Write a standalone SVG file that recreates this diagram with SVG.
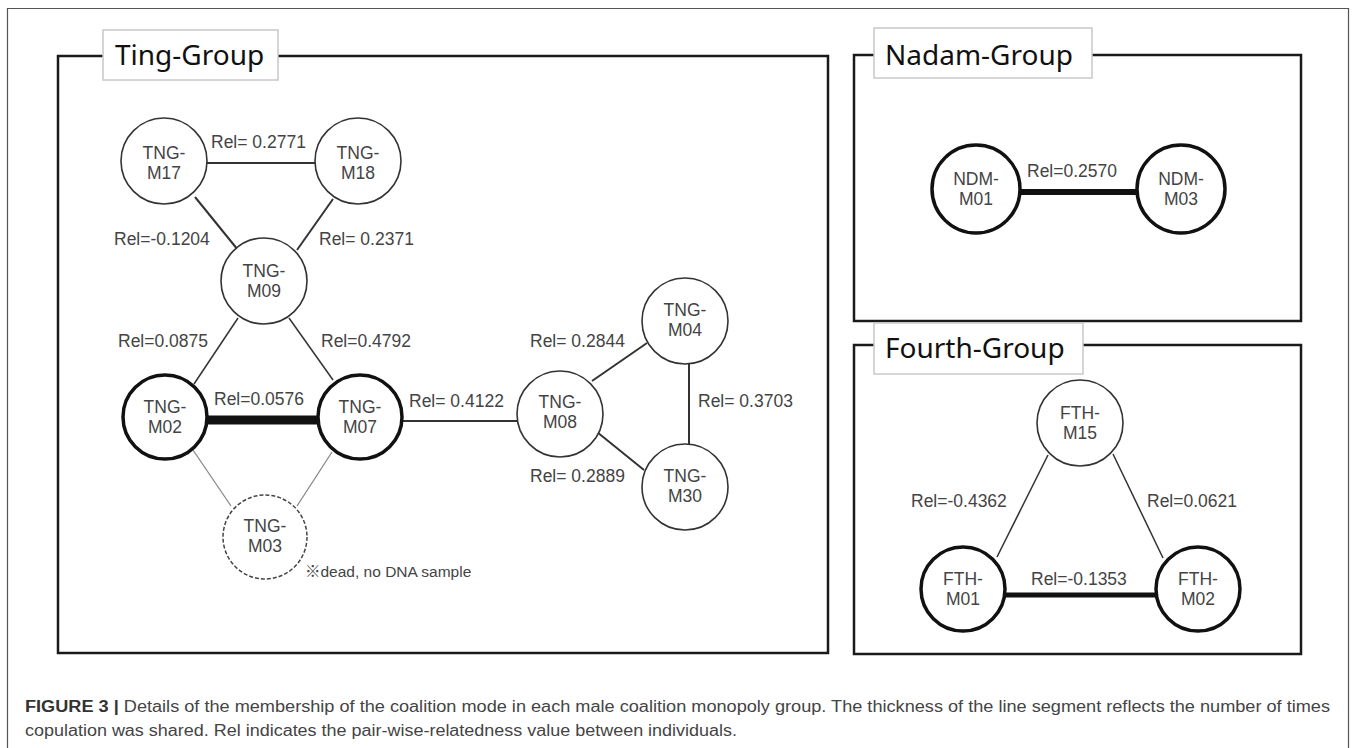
<svg xmlns="http://www.w3.org/2000/svg" width="1357" height="748" viewBox="0 0 1357 748">
<style>
.frame{fill:none;stroke:#555;stroke-width:1.2}
.group{fill:none;stroke:#1a1a1a;stroke-width:2.5}
.tagbox{fill:#fff;stroke:#c8c8c8;stroke-width:1.5}
.title{font-family:"Noto Sans","Open Sans",sans-serif;font-size:28px;fill:#111}
.node{fill:#fff;stroke:#333;stroke-width:1.6}
.bold{fill:#fff;stroke:#111;stroke-width:3.5}
.dead{fill:#fff;stroke:#444;stroke-width:1.5;stroke-dasharray:4 2}
.nt{font-family:"Liberation Sans",Arial,sans-serif;font-size:17.5px;fill:#444;text-anchor:middle}
.el{font-family:"Liberation Sans",Arial,sans-serif;font-size:17.5px;fill:#444}
.e{stroke:#333;stroke-width:2;fill:none}
.e1{stroke:#333;stroke-width:1.5;fill:none}
.eg{stroke:#888;stroke-width:1.3;fill:none}
.cap{font-family:"Liberation Sans",Arial,sans-serif;font-size:16px;fill:#444}
</style>
<rect x="0" y="0" width="1357" height="748" fill="#fff"/>
<path class="frame" d="M7.5,750 V8.5 H1348.5 V750"/>

<g id="ting-group">
<rect class="group" x="58" y="56" width="770" height="597"/>
<rect class="tagbox" x="103" y="30" width="175" height="50"/>
<text class="title" x="115" y="65">Ting-Group</text>
</g>
<g id="nadam-group">
<rect class="group" x="854" y="55" width="447" height="266"/>
<rect class="tagbox" x="874" y="28" width="218" height="50"/>
<text class="title" x="885" y="65">Nadam-Group</text>
</g>
<g id="fourth-group">
<rect class="group" x="854" y="345" width="447" height="309"/>
<rect class="tagbox" x="874" y="323" width="209" height="51"/>
<text class="title" x="885" y="358">Fourth-Group</text>
</g>

<g id="connectors">
<line class="e" x1="164" y1="163" x2="358" y2="163"/>
<line class="e" x1="195" y1="197" x2="238" y2="250"/>
<line class="e" x1="333" y1="199" x2="297" y2="250"/>
<line class="e1" x1="238" y1="318" x2="194" y2="384"/>
<line class="e1" x1="289" y1="318" x2="333" y2="380"/>
<line stroke="#111" stroke-width="9" x1="165" y1="420" x2="360" y2="420"/>
<line class="e" x1="360" y1="421" x2="560" y2="421"/>
<line class="e" x1="592" y1="381" x2="647" y2="343"/>
<line class="e" x1="689" y1="362" x2="689" y2="446"/>
<line class="e" x1="597" y1="432" x2="644" y2="470"/>
<line class="eg" x1="193" y1="450" x2="231" y2="506"/>
<line class="eg" x1="332" y1="452" x2="297" y2="506"/>
<line stroke="#111" stroke-width="6" x1="976" y1="192" x2="1181" y2="192"/>
<line class="e1" x1="1048" y1="455" x2="997" y2="557"/>
<line class="e1" x1="1113" y1="454" x2="1163" y2="558"/>
<line stroke="#111" stroke-width="5" x1="963" y1="595" x2="1198" y2="595"/>
<text class="el" x="211" y="148">Rel= 0.2771</text>
<text class="el" x="114" y="245">Rel=-0.1204</text>
<text class="el" x="319" y="245">Rel= 0.2371</text>
<text class="el" x="118" y="347">Rel=0.0875</text>
<text class="el" x="321" y="347">Rel=0.4792</text>
<text class="el" x="214" y="405">Rel=0.0576</text>
<text class="el" x="409" y="407">Rel= 0.4122</text>
<text class="el" x="530" y="347">Rel= 0.2844</text>
<text class="el" x="698" y="407">Rel= 0.3703</text>
<text class="el" x="530" y="482">Rel= 0.2889</text>
<text class="el" x="1027" y="177">Rel=0.2570</text>
<text class="el" x="911" y="507">Rel=-0.4362</text>
<text class="el" x="1147" y="507">Rel=0.0621</text>
<text class="el" x="1031" y="585">Rel=-0.1353</text>
</g>

<g id="TNG-M17"><circle class="node" cx="164" cy="161" r="43"/><text class="nt" x="164" y="159">TNG-</text><text class="nt" x="164" y="179">M17</text></g>
<g id="TNG-M18"><circle class="node" cx="358" cy="161" r="43"/><text class="nt" x="358" y="159">TNG-</text><text class="nt" x="358" y="179">M18</text></g>
<g id="TNG-M09"><circle class="node" cx="264" cy="281" r="43"/><text class="nt" x="264" y="277">TNG-</text><text class="nt" x="264" y="297">M09</text></g>
<g id="TNG-M02"><circle class="bold" cx="165" cy="417" r="42"/><text class="nt" x="165" y="413">TNG-</text><text class="nt" x="165" y="433">M02</text></g>
<g id="TNG-M07"><circle class="bold" cx="360" cy="417" r="42"/><text class="nt" x="360" y="413">TNG-</text><text class="nt" x="360" y="433">M07</text></g>
<g id="TNG-M08"><circle class="node" cx="560" cy="414" r="43"/><text class="nt" x="560" y="408">TNG-</text><text class="nt" x="560" y="428">M08</text></g>
<g id="TNG-M04"><circle class="node" cx="685" cy="321" r="43"/><text class="nt" x="685" y="316">TNG-</text><text class="nt" x="685" y="336">M04</text></g>
<g id="TNG-M30"><circle class="node" cx="685" cy="487" r="43"/><text class="nt" x="685" y="482">TNG-</text><text class="nt" x="685" y="502">M30</text></g>
<g id="TNG-M03"><circle class="dead" cx="265" cy="537" r="42"/><text class="nt" x="265" y="532">TNG-</text><text class="nt" x="265" y="552">M03</text>
<text font-family="'Liberation Sans','Noto Sans CJK JP',sans-serif" font-size="15.5" fill="#444" x="305" y="577">※dead, no DNA sample</text></g>

<g id="NDM-M01"><circle class="bold" cx="976" cy="189" r="44"/><text class="nt" x="976" y="185">NDM-</text><text class="nt" x="976" y="205">M01</text></g>
<g id="NDM-M03"><circle class="bold" cx="1181" cy="189" r="44"/><text class="nt" x="1181" y="185">NDM-</text><text class="nt" x="1181" y="205">M03</text></g>
<g id="FTH-M15"><circle class="node" cx="1080" cy="423" r="43"/><text class="nt" x="1080" y="419">FTH-</text><text class="nt" x="1080" y="439">M15</text></g>
<g id="FTH-M01"><circle class="bold" cx="963" cy="589" r="42"/><text class="nt" x="963" y="585">FTH-</text><text class="nt" x="963" y="605">M01</text></g>
<g id="FTH-M02"><circle class="bold" cx="1198" cy="589" r="42"/><text class="nt" x="1198" y="585">FTH-</text><text class="nt" x="1198" y="605">M02</text></g>

<g id="caption">
<text class="cap" x="25" y="712" textLength="1305" lengthAdjust="spacingAndGlyphs"><tspan font-weight="bold" fill="#333">FIGURE 3 |</tspan> Details of the membership of the coalition mode in each male coalition monopoly group. The thickness of the line segment reflects the number of times</text>
<text class="cap" x="25" y="736" textLength="712" lengthAdjust="spacingAndGlyphs">copulation was shared. Rel indicates the pair-wise-relatedness value between individuals.</text>
</g>
</svg>
